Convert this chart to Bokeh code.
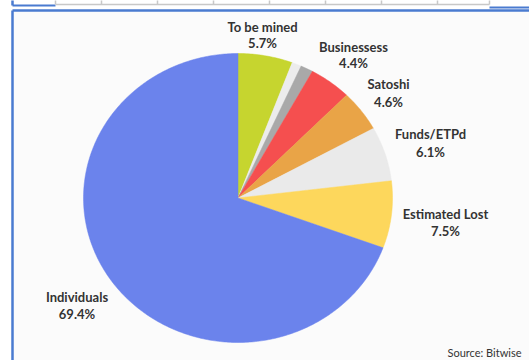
import numpy as np
from bokeh.plotting import figure
from bokeh.models import ColumnDataSource, Range1d
from bokeh.core.properties import value
from bokeh.embed import file_html
from bokeh.resources import INLINE

# ---- data (clockwise from 12 o'clock) ----
categories = ["To be mined", "Other A", "Other B", "Businessess", "Satoshi",
              "Funds/ETPd", "Estimated Lost", "Individuals"]
shares = [5.7, 1.0, 1.3, 4.4, 4.6, 6.1, 7.5, 69.4]
labels = ["To be mined", "", "", "Businessess", "Satoshi", "Funds/ETPd",
          "Estimated Lost", "Individuals"]
colors = ["#c6d52f", "#ececec", "#a9a9a9", "#f54f4f", "#e9a447",
          "#eaeaea", "#fdd75c", "#6b83ec"]

# ---- layout (pixels) ----
W, H = 529, 360
CX, CY = 237.5, 197.5      # pie centre
RX, RY = 154.5, 144.5      # pie radii (image is slightly stretched)

def X(px):
    return (px - CX) / RX

def Y(py):
    return (CY - py) / RY

# label positions (pixel centres of name line / value line)
label_pos = {
    "To be mined": (262, 26, 42),
    "Businessess": (353, 46, 62),
    "Satoshi": (388, 83, 101),
    "Funds/ETPd": (430, 133, 151),
    "Estimated Lost": (445, 213, 230),
    "Individuals": (76.5, 296, 313),
}

p = figure(width=W, height=H, output_backend="svg", toolbar_location=None,
           x_range=Range1d(X(0), X(W)), y_range=Range1d(Y(H), Y(0)),
           min_border=0)
p.axis.visible = False
p.grid.visible = False
p.outline_line_color = None
p.background_fill_color = "#ffffff"
p.border_fill_color = "#ffffff"

# panel background and frame
p.quad(left=[X(12)], right=[X(W + 5)], top=[Y(10)], bottom=[Y(H + 5)],
       fill_color="#fbfbfb", line_color=None)
p.line([X(12), X(12)], [Y(H + 5), Y(10)], line_color="#4a7bd0", line_width=2.5)
p.line([X(12), X(W + 5)], [Y(10), Y(10)], line_color="#4a7bd0", line_width=2.5)

# remnant of the table above
p.line([X(12), X(12)], [Y(-2), Y(5)], line_color="#4a7bd0", line_width=2.5)
p.line([X(12), X(55)], [Y(5), Y(5)], line_color="#4a7bd0", line_width=2)
p.line([X(489), X(W + 5)], [Y(7), Y(7)], line_color="#4a7bd0", line_width=2)
cells = [55, 101, 157, 213, 269, 325, 381, 437, 489]
p.line([X(55), X(489)], [Y(4), Y(4)], line_color="#c8c8c8", line_width=1.5)
for cx_ in cells:
    p.line([X(cx_), X(cx_)], [Y(-2), Y(4)], line_color="#c8c8c8", line_width=1.5)

# pie slices
fr = np.array(shares) / sum(shares)
cum = np.concatenate([[0], np.cumsum(fr)])
xs, ys = [], []
for i in range(len(shares)):
    a0 = np.pi / 2 - cum[i] * 2 * np.pi
    a1 = np.pi / 2 - cum[i + 1] * 2 * np.pi
    t = np.linspace(a0, a1, max(8, int(abs(a1 - a0) * 80)))
    xs.append(list(np.concatenate([[0], np.cos(t)])))
    ys.append(list(np.concatenate([[0], np.sin(t)])))
src = ColumnDataSource(dict(xs=xs, ys=ys, color=colors, name=categories))
p.patches("xs", "ys", source=src, fill_color="color", line_color="color",
          line_width=0.5)

# labels
nx, ny, vx, vy, names, vals = [], [], [], [], [], []
for lab, s in zip(labels, shares):
    if not lab:
        continue
    px, py1, py2 = label_pos[lab]
    nx.append(X(px)); ny.append(Y(py1)); names.append(lab)
    vx.append(X(px)); vy.append(Y(py2)); vals.append(f"{s:.1f}%")

p.text(nx, ny, text=names, text_font=value("Lato"), text_font_style="bold",
       text_font_size="13px", text_color="#333333", text_align="center",
       text_baseline="middle")
p.text(vx, vy, text=vals, text_font=value("Lato"), text_font_style="bold",
       text_font_size="13px", text_color="#333333", text_align="center",
       text_baseline="middle")

p.text([X(447)], [Y(352)], text=["Source: Bitwise"], text_font=value("Lato"),
       text_font_size="11px", text_color="#333333", text_align="left",
       text_baseline="middle")

open("out.html", "w").write(file_html(p, INLINE))
